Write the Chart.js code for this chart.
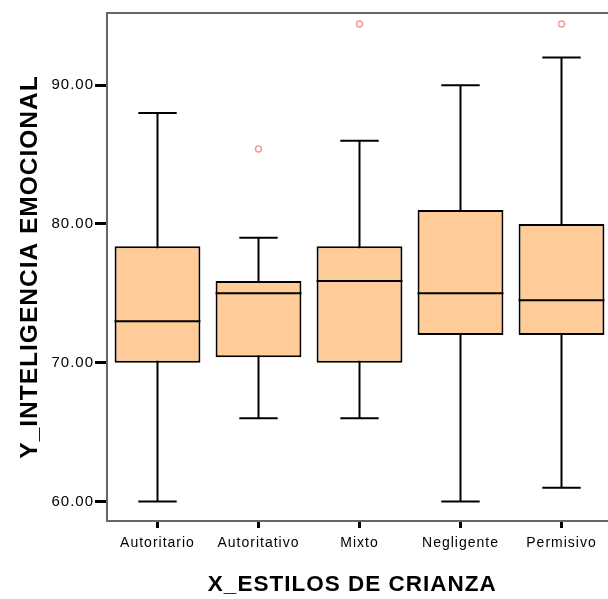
<!DOCTYPE html>
<html>
<head>
<meta charset="utf-8">
<script src="https://cdn.jsdelivr.net/npm/chart.js@4"></script>
<style>
  html, body { margin: 0; padding: 0; overflow: hidden; background: #fff; }
</style>
</head>
<body>
<canvas id="box-chart" width="620" height="599"></canvas>
<script>
// Boxplot data
const categories = ["Autoritario", "Autoritativo", "Mixto", "Negligente", "Permisivo"];
const whiskerLow = [60, 66, 66, 60, 61];
const boxLow = [70, 70.4, 70, 72, 72];
const medians = [73, 75, 75.9, 75, 74.5];
const boxHigh = [78.4, 75.9, 78.4, 81, 80];
const whiskerHigh = [88, 79, 86, 90, 92];
const outliers = [null, 85.4, 94.4, null, 94.4];
const yTicks = [60, 70, 80, 90];

// whiskers under the boxes, medians on top, frame round the plot
const boxParts = {
  id: "boxParts",
  beforeDraw(chart) {
    chart.ctx.letterSpacing = "1px";
  },
  beforeDatasetsDraw(chart) {
    const { ctx, scales: { x, y } } = chart;
    ctx.save();
    ctx.strokeStyle = "#000";
    ctx.lineWidth = 2;
    categories.forEach((c, i) => {
      const cx = x.getPixelForValue(i);
      const half = x.width / categories.length * 0.19;
      ctx.beginPath();
      ctx.moveTo(cx, y.getPixelForValue(whiskerLow[i]));
      ctx.lineTo(cx, y.getPixelForValue(whiskerHigh[i]));
      [whiskerLow[i], whiskerHigh[i]].forEach((v) => {
        ctx.moveTo(cx - half, y.getPixelForValue(v));
        ctx.lineTo(cx + half, y.getPixelForValue(v));
      });
      ctx.stroke();
    });
    ctx.restore();
  },
  afterDatasetsDraw(chart) {
    const { ctx, scales: { y } } = chart;
    const meta = chart.getDatasetMeta(0);
    ctx.save();
    ctx.strokeStyle = "#000";
    ctx.lineWidth = 2;
    meta.data.forEach((bar, i) => {
      const my = y.getPixelForValue(medians[i]);
      ctx.beginPath();
      ctx.moveTo(bar.x - bar.width / 2, my);
      ctx.lineTo(bar.x + bar.width / 2, my);
      ctx.stroke();
    });
    const a = chart.chartArea;
    ctx.strokeStyle = "#666";
    ctx.strokeRect(a.left, a.top, a.right - a.left, a.bottom - a.top);
    ctx.restore();
  }
};

new Chart(document.getElementById("box-chart"), {
  type: "bar",
  data: {
    labels: categories,
    datasets: [
      {
        data: boxLow.map((v, i) => [v, boxHigh[i]]),
        backgroundColor: "#FFCC99",
        borderColor: "#000",
        borderWidth: 2,
        borderSkipped: false,
        barPercentage: 0.85,
        categoryPercentage: 1.0,
      },
      {
        type: "line",
        data: outliers,
        showLine: false,
        pointStyle: "circle",
        pointRadius: 3,
        pointBorderWidth: 1.5,
        pointBorderColor: "#F49A9A",
        pointBackgroundColor: "rgba(0,0,0,0)",
      },
    ],
  },
  options: {
    responsive: false,
    animation: false,
    devicePixelRatio: 1,
    layout: { padding: { top: 13, right: 8, left: 0, bottom: 0 } },
    plugins: { legend: { display: false }, tooltip: { enabled: false } },
    scales: {
      x: {
        offset: true,
        afterFit: (s) => { s.height = 78; },
        grid: { offset: false, drawOnChartArea: false, tickLength: 7, tickWidth: 3, tickColor: "#000" },
        border: { color: "#666", width: 2 },
        ticks: {
          color: "#000",
          font: { family: "Liberation Sans, Arial", size: 14 },
          padding: 7,
          maxRotation: 0,
          autoSkip: false,
        },
        title: {
          display: true,
          text: "X_ESTILOS DE CRIANZA  ",
          color: "#000",
          font: { family: "Liberation Sans, Arial", size: 22.5, weight: "bold" },
          padding: { top: 0, bottom: 1 },
        },
      },
      y: {
        min: 58.6,
        max: 95.2,
        afterBuildTicks: (s) => { s.ticks = yTicks.map((v) => ({ value: v })); },
        afterFit: (s) => { s.width = 107; },
        grid: { drawOnChartArea: false, tickLength: 12, tickWidth: 3, tickColor: "#000" },
        border: { color: "#666", width: 2 },
        ticks: {
          color: "#000",
          font: { family: "Liberation Sans, Arial", size: 15 },
          padding: 1,
          callback: (v) => Number(v).toFixed(2),
        },
        title: {
          display: true,
          text: "Y_INTELIGENCIA EMOCIONAL",
          color: "#000",
          font: { family: "Liberation Sans, Arial", size: 24.5, weight: "bold" },
          padding: { top: 16, bottom: 0 },
        },
      },
    },
  },
  plugins: [boxParts],
});
</script>
</body>
</html>
